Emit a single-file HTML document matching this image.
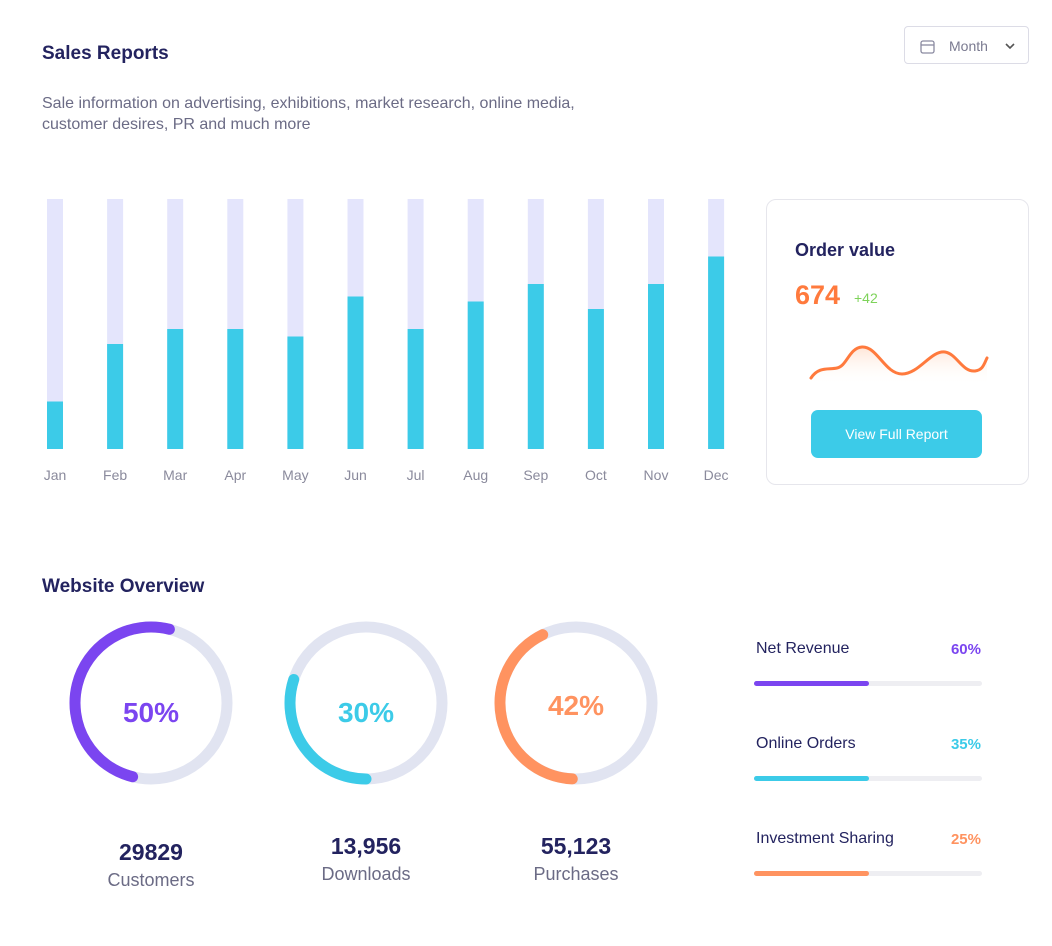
<!DOCTYPE html>
<html><head><meta charset="utf-8"><style>
body{margin:0;width:1052px;height:946px;background:#fff;font-family:"Liberation Sans",sans-serif;position:relative;overflow:hidden}
.a{position:absolute}
.t{color:#23235f;font-weight:bold}
</style></head><body>
<div class="a t" style="left:42px;top:43px;font-size:19px">Sales Reports</div>
<div class="a" style="left:904px;top:26px;width:125px;height:38px;border:1px solid #dcdce6;border-radius:4px;box-sizing:border-box;color:#7a7a90;font-size:14px">
<svg class="a" style="left:15px;top:12px" width="15" height="15" viewBox="0 0 15 15"><rect x="1" y="2" width="13" height="12" rx="2" fill="none" stroke="#8a8aa0" stroke-width="1.3"/><line x1="1" y1="6" x2="14" y2="6" stroke="#8a8aa0" stroke-width="1.3"/></svg>
<span class="a" style="left:44px;top:11px">Month</span>
<svg class="a" style="left:99px;top:14px" width="12" height="10" viewBox="0 0 12 10"><path d="M2 3 L6 7 L10 3" fill="none" stroke="#555" stroke-width="1.6"/></svg></div>
<div class="a" style="left:42px;top:93px;font-size:16px;line-height:21px;color:#6b6b85;width:560px">Sale information on advertising, exhibitions, market research, online media, customer desires, PR and much more</div>
<svg class="a" style="left:0;top:180px" width="760" height="320" id="bars"></svg>
<div class="a" style="left:766px;top:199px;width:263px;height:286px;border:1px solid #e6e6ec;border-radius:10px;box-sizing:border-box">
<div class="a t" style="left:28px;top:40px;font-size:18px">Order value</div>
<div class="a" style="left:28px;top:80px;font-size:27px;font-weight:bold;color:#ff7a3d">674</div>
<div class="a" style="left:87px;top:90px;font-size:14px;color:#7ed35a">+42</div>
<svg class="a" style="left:40px;top:140px" width="185" height="50"><defs><linearGradient id="g" x1="0" y1="0" x2="0" y2="1"><stop offset="0" stop-color="#ffd9c4" stop-opacity=".7"/><stop offset="1" stop-color="#fff" stop-opacity="0"/></linearGradient></defs>
<path d="M4 38 C12 26 22 30 30 28 C40 26 42 8 55 7 C70 6 78 34 95 34 C112 34 124 10 138 12 C150 14 155 32 168 31 C176 30 177 24 180 18 L180 45 L4 45Z" fill="url(#g)"/>
<path d="M4 38 C12 26 22 30 30 28 C40 26 42 8 55 7 C70 6 78 34 95 34 C112 34 124 10 138 12 C150 14 155 32 168 31 C176 30 177 24 180 18" fill="none" stroke="#ff7a3d" stroke-width="3" stroke-linecap="round"/></svg>
<div class="a" style="left:44px;top:210px;width:171px;height:48px;background:#3ccbe8;border-radius:7px;color:#fff;font-size:14px;text-align:center;line-height:48px">View Full Report</div></div>
<div class="a t" style="left:42px;top:576px;font-size:19px">Website Overview</div>
<svg class="a" style="left:0;top:600px" width="700" height="300" id="donuts"></svg>
<div id="prog"></div>
<script>
const months=['Jan','Feb','Mar','Apr','May','Jun','Jul','Aug','Sep','Oct','Nov','Dec'];
const salesPct=[19,42,48,48,45,61,48,59,66,56,66,77];
const NS='http://www.w3.org/2000/svg';
const bs=document.getElementById('bars');
const x0=55,step=60.1,barTop=19,barH=250;
const yS=v=>barTop+barH-v/100*barH;
months.forEach((m,i)=>{
const cx=x0+i*step;
const bg=document.createElementNS(NS,'rect');
bg.setAttribute('x',cx-8);bg.setAttribute('y',barTop);bg.setAttribute('width',16);bg.setAttribute('height',barH);bg.setAttribute('fill','#e4e5fc');


bs.appendChild(bg);
const r=document.createElementNS(NS,'rect');
r.setAttribute('x',cx-8);r.setAttribute('y',yS(salesPct[i]));r.setAttribute('width',16);r.setAttribute('height',barTop+barH-yS(salesPct[i]));r.setAttribute('fill','#3ccbe8');


bs.appendChild(r);
const t=document.createElementNS(NS,'text');
t.setAttribute('x',cx);t.setAttribute('y',300);t.setAttribute('text-anchor','middle');t.setAttribute('font-size','14');t.setAttribute('fill','#8a8a9c');t.textContent=m;


bs.appendChild(t);
});
const donutPct=[50,30,42];
const donutLabels=['Customers','Downloads','Purchases'];
const donutValues=['29829','13,956','55,123'];
const donutColors=['#7b45f0','#3ccbe8','#ff9360'];
const donutEnd=[14,180,-26];
const dcx=[151,366,576],dcy=103,R=76;
const ds=document.getElementById('donuts');
const pt=a=>{const r=(a-90)*Math.PI/180;return [Math.cos(r),Math.sin(r)]};
donutPct.forEach((p,i)=>{
const c=document.createElementNS(NS,'circle');
c.setAttribute('cx',dcx[i]);c.setAttribute('cy',dcy);c.setAttribute('r',R);c.setAttribute('fill','none');c.setAttribute('stroke','#e1e4f1');c.setAttribute('stroke-width','11');


ds.appendChild(c);
const e=donutEnd[i]+(i==1?p/100*360:0),s=e-p/100*360;
const [x1,y1]=pt(s),[x2,y2]=pt(e);
const a=document.createElementNS(NS,'path');
a.setAttribute('d',`M${dcx[i]+R*x1} ${dcy+R*y1} A${R} ${R} 0 ${p>50?1:0} 1 ${dcx[i]+R*x2} ${dcy+R*y2}`);
a.setAttribute('fill','none');a.setAttribute('stroke',donutColors[i]);a.setAttribute('stroke-width','11');a.setAttribute('stroke-linecap','round');


ds.appendChild(a);
const t=document.createElementNS(NS,'text');
t.setAttribute('x',dcx[i]);t.setAttribute('y',dcy+(i==2?12:19));t.setAttribute('text-anchor','middle');t.setAttribute('font-size','28');t.setAttribute('font-weight','bold');t.setAttribute('fill',donutColors[i]);t.textContent=p+'%';


ds.appendChild(t);
const ly=[260,254,254][i];
const v=document.createElementNS(NS,'text');
v.setAttribute('x',dcx[i]);v.setAttribute('y',ly);v.setAttribute('text-anchor','middle');v.setAttribute('font-size','23');v.setAttribute('font-weight','bold');v.setAttribute('fill','#23235f');v.textContent=donutValues[i];


ds.appendChild(v);
const l=document.createElementNS(NS,'text');
l.setAttribute('x',dcx[i]);l.setAttribute('y',ly+26);l.setAttribute('text-anchor','middle');l.setAttribute('font-size','18');l.setAttribute('fill','#6b6b85');l.textContent=donutLabels[i];


ds.appendChild(l);
});
const progNames=['Net Revenue','Online Orders','Investment Sharing'];
const progPct=[60,35,25];
const progColors=['#7b45f0','#3ccbe8','#ff9360'];
const pc=document.getElementById('prog');
progNames.forEach((n,i)=>{
const y=640+i*95;
const d=document.createElement('div');
d.className='a';d.style.cssText=`left:756px;top:${y}px;width:228px;height:50px`;


d.innerHTML=`<span class="a" style="left:0;top:0;font-size:16px;color:#23235f">${n}</span><span class="a" style="right:3px;top:1px;font-size:15px;font-weight:bold;color:${progColors[i]}">${progPct[i]}%</span><div class="a" style="left:-2px;top:41px;width:228px;height:5px;border-radius:3px;background:#eeeef2"></div><div class="a" style="left:-2px;top:41px;width:115px;height:5px;border-radius:3px;background:${progColors[i]}"></div>`;
pc.appendChild(d);
});
</script>
</body></html>
